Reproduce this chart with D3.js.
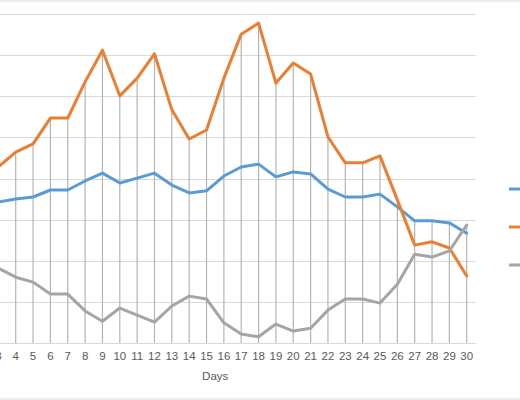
<!DOCTYPE html>
<html>
<head>
<meta charset="utf-8">
<script src="https://cdn.jsdelivr.net/npm/d3@7"></script>
<style>
  body { margin: 0; background: #fff; }
  svg { display: block; font-family: "Liberation Sans", Arial, sans-serif; }
</style>
</head>
<body>
<div id="chart"></div>
<script>
// data (days 1-2 sit outside the visible crop)
var days = d3.range(1, 31);
var seriesNames = ['Series1', 'Series2', 'Series3'];
var blueValues = [33.5, 34.0, 34.3, 35.0, 35.5, 37.2, 37.2, 39.4, 41.3, 38.9, 40.1, 41.3, 38.4, 36.5, 37.0,
                  40.6, 42.8, 43.5, 40.4, 41.6, 41.1, 37.4, 35.5, 35.5, 36.2, 33.1, 29.7, 29.7, 29.2, 26.7];
var orangeValues = [40.0, 41.2, 42.8, 46.4, 48.4, 54.7, 54.7, 63.5, 71.2, 60.1, 64.4, 70.3, 56.7, 49.6, 51.8,
                    64.4, 75.1, 77.8, 63.2, 68.1, 65.4, 50.1, 43.8, 43.8, 45.5, 34.8, 23.8, 24.6, 23.1, 16.3];
var grayValues = [20.0, 19.2, 18.2, 16.0, 14.8, 11.9, 11.9, 7.8, 5.3, 8.5, 6.8, 5.1, 9.0, 11.4, 10.7,
                  4.9, 2.2, 1.5, 4.6, 2.9, 3.6, 8.0, 10.7, 10.7, 9.7, 14.3, 21.6, 20.9, 22.4, 28.7];
var yTicks = [0, 10, 20, 30, 40, 50, 60, 70, 80];
var colors = ['#5b9bd5', '#ed7d31', '#a5a5a5'];

var width = 520, height = 400;
var series = [blueValues, orangeValues, grayValues];

var svg = d3.select('#chart').append('svg')
    .attr('width', width)
    .attr('height', height);

// chart border (only top and bottom edges fall inside the crop)
svg.append('line').attr('x1', 0).attr('x2', width).attr('y1', 1).attr('y2', 1)
    .attr('stroke', '#d9d9d9');
svg.append('line').attr('x1', 0).attr('x2', width).attr('y1', 399).attr('y2', 399)
    .attr('stroke', '#d9d9d9');

// plot area starts left of the visible window
var x = d3.scaleBand().domain(days).range([-45, 475.4]);
var y = d3.scaleLinear().domain([0, 80]).range([343, 14]);
var cx = function(d) { return x(d) + x.bandwidth() / 2; };

// horizontal gridlines
svg.append('g').selectAll('line')
    .data(yTicks)
    .join('line')
    .attr('x1', -45).attr('x2', 475.4)
    .attr('y1', function(d) { return Math.round(y(d)) + 0.5; })
    .attr('y2', function(d) { return Math.round(y(d)) + 0.5; })
    .attr('stroke', '#d9d9d9')
    .attr('stroke-width', 1);

// drop lines from top point down to the axis
svg.append('g').selectAll('line')
    .data(days)
    .join('line')
    .attr('x1', function(d) { return cx(d); })
    .attr('x2', function(d) { return cx(d); })
    .attr('y1', function(d, i) { return y(d3.max(series, function(s) { return s[i]; })); })
    .attr('y2', y(0))
    .attr('stroke', '#b4b4b4')
    .attr('stroke-width', 1.2);

// x axis
var xAxis = svg.append('g')
    .attr('transform', 'translate(0,' + y(0) + ')')
    .call(d3.axisBottom(x).tickSize(0).tickPadding(9));
xAxis.select('.domain').attr('stroke', '#d9d9d9');
xAxis.selectAll('text')
    .attr('fill', '#595959')
    .style('font-size', '11.5px')
    .style('font-family', '"Liberation Sans", Arial, sans-serif');

svg.append('text')
    .attr('x', (x.range()[0] + x.range()[1]) / 2)
    .attr('y', 380)
    .attr('text-anchor', 'middle')
    .attr('fill', '#595959')
    .style('font-size', '11.5px')
    .text('Days');

// the three lines
var line = d3.line()
    .x(function(d, i) { return cx(days[i]); })
    .y(function(d) { return y(d); });

svg.append('g').selectAll('path')
    .data(series)
    .join('path')
    .attr('d', line)
    .attr('fill', 'none')
    .attr('stroke', function(d, i) { return colors[i]; })
    .attr('stroke-width', 3)
    .attr('stroke-linejoin', 'round')
    .attr('stroke-linecap', 'round');

// legend, mostly cut off at the right edge
var legend = svg.append('g').selectAll('g')
    .data(seriesNames)
    .join('g')
    .attr('transform', function(d, i) { return 'translate(509,' + (189 + i * 38) + ')'; });
legend.append('line')
    .attr('x1', 0).attr('x2', 22)
    .attr('stroke', function(d, i) { return colors[i]; })
    .attr('stroke-width', 3);
legend.append('text')
    .attr('x', 26).attr('dy', '0.35em')
    .attr('fill', '#595959')
    .style('font-size', '11.5px')
    .text(function(d) { return d; });
</script>
</body>
</html>
